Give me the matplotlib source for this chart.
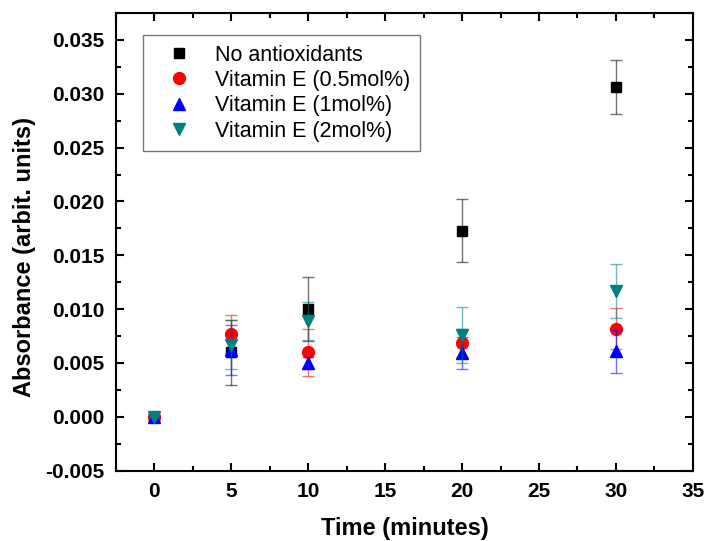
import matplotlib
matplotlib.use("Agg")
import matplotlib.pyplot as plt
from matplotlib.ticker import MultipleLocator, FormatStrFormatter

plt.rcParams['font.family'] = ['Liberation Sans', 'DejaVu Sans']

# ── Data ──────────────────────────────────────────────────────────────────────
time_min = [0, 5, 10, 20, 30]

no_anti = [0.0, 0.0060, 0.0100, 0.0173, 0.0306]
no_anti_err = [0.0, 0.0030, 0.0030, 0.0029, 0.0025]

vite_05 = [0.0, 0.0077, 0.0060, 0.0069, 0.0082]
vite_05_err = [0.0, 0.0018, 0.0022, 0.0013, 0.0019]

vite_1 = [0.0, 0.0062, 0.0050, 0.0059, 0.0061]
vite_1_err = [0.0, 0.0023, 0.0006, 0.0015, 0.0020]

vite_2 = [0.0, 0.0067, 0.0089, 0.0076, 0.0117]
vite_2_err = [0.0, 0.0023, 0.0018, 0.0026, 0.0025]

series = [
    ("No antioxidants", no_anti, no_anti_err, 's', 'black', 7.5),
    ("Vitamin E (0.5mol%)", vite_05, vite_05_err, 'o', 'red', 8.5),
    ("Vitamin E (1mol%)", vite_1, vite_1_err, '^', 'blue', 9),
    ("Vitamin E (2mol%)", vite_2, vite_2_err, 'v', '#008080', 9),
]

# ── Plot ──────────────────────────────────────────────────────────────────────
fig = plt.figure(figsize=(7.07, 5.41), dpi=100)
ax = fig.add_axes([0.164, 0.130, 0.816, 0.846])

for label, y, err, mk, col, ms in series:
    ax.errorbar(time_min, y, yerr=err, fmt='none', ecolor=col, alpha=0.55,
                elinewidth=1.0, capsize=4, capthick=1.0)
    ax.plot(time_min, y, linestyle='none', marker=mk, color=col,
            markersize=ms, label=label)

ax.set_xlim(-2.5, 35)
ax.set_ylim(-0.005, 0.0375)
ax.xaxis.set_major_locator(MultipleLocator(5))
ax.xaxis.set_minor_locator(MultipleLocator(2.5))
ax.yaxis.set_major_locator(MultipleLocator(0.005))
ax.yaxis.set_minor_locator(MultipleLocator(0.0025))
ax.yaxis.set_major_formatter(FormatStrFormatter('%.3f'))

ax.tick_params(which='both', direction='in', top=True, right=True, width=1.5)
ax.tick_params(which='major', length=6, labelsize=15, pad=8)
ax.tick_params(which='minor', length=3.5)
for lbl in ax.get_xticklabels() + ax.get_yticklabels():
    lbl.set_fontweight('bold')
for sp in ax.spines.values():
    sp.set_linewidth(1.5)

ax.set_xlabel('Time (minutes)', fontsize=17, fontweight='bold', labelpad=12)
ax.set_ylabel('Absorbance (arbit. units)', fontsize=17, fontweight='bold')
ax.yaxis.set_label_coords(-0.138, 0.467)

leg = ax.legend(loc='upper left', bbox_to_anchor=(0.047, 0.952), borderaxespad=0,
                fontsize=15.5, frameon=True, fancybox=False, edgecolor='#555555',
                handletextpad=0.5, handlelength=2.4, borderpad=0.45,
                labelspacing=0.2)
leg.get_frame().set_linewidth(1.0)

fig.savefig('out.png', dpi=100)
